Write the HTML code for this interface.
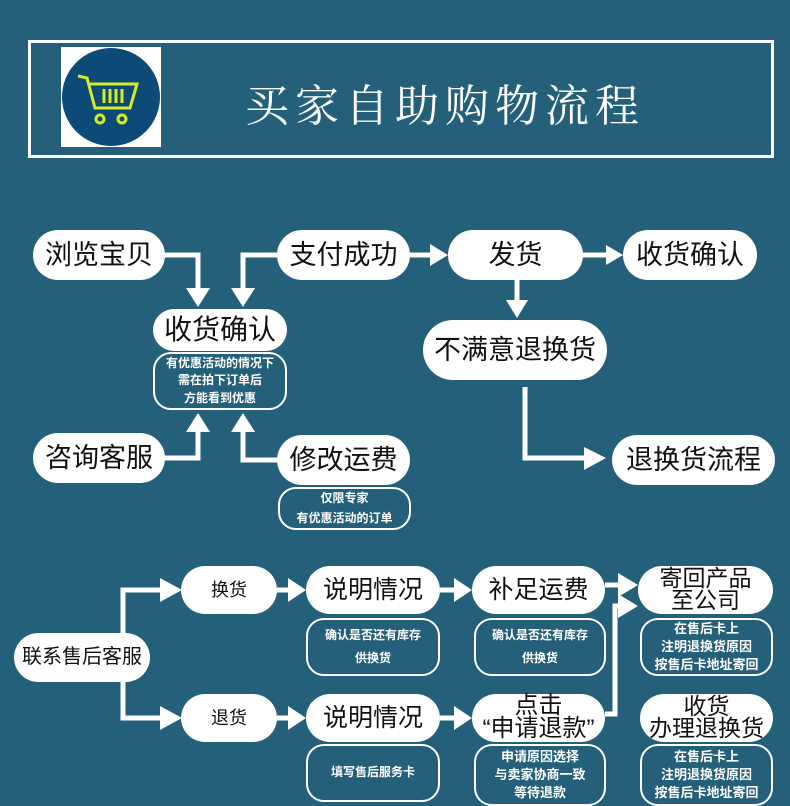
<!DOCTYPE html>
<html><head><meta charset="utf-8"><style>
body{margin:0;width:790px;height:806px;background:#25607a;overflow:hidden;position:relative;font-family:"Liberation Sans","Noto Sans CJK SC",sans-serif}
.p{position:absolute;background:#fff;border-radius:26px;color:#111;display:flex;align-items:center;justify-content:center;text-align:center;white-space:nowrap;line-height:1.05}
.n{position:absolute;border:2px solid #fff;border-radius:18px;color:#fff;display:flex;align-items:center;justify-content:center;text-align:center;font-size:12px;font-weight:bold;line-height:1.45;box-sizing:border-box;white-space:nowrap}
svg{position:absolute;left:0;top:0}
</style></head><body>
<div style="position:absolute;left:28px;top:40px;width:740px;height:112px;border:3px solid #fff"></div>
<div style="position:absolute;left:61px;top:47px;width:100px;height:100px;background:#fff"></div>
<div style="position:absolute;left:62px;top:48px;width:98px;height:98px;border-radius:50%;background:#0e4a78"></div>
<svg width="790" height="806">
<g stroke="#d4ec26" stroke-width="3" fill="none">
<path d="M78 76 L87 78 L95 108 L130 108 L137 84 L88 84"/>
<line x1="104" y1="89" x2="104" y2="103"/><line x1="110" y1="89" x2="110" y2="103"/><line x1="116" y1="89" x2="116" y2="103"/><line x1="122" y1="89" x2="122" y2="103"/>
<circle cx="100" cy="119" r="4"/><circle cx="122" cy="119" r="4"/>
</g>
<g stroke="#fff" stroke-width="5" fill="none">
<path d="M165 255 H198 V290"/><path d="M277 255 H243 V290"/>
<path d="M165 458 H198 V430"/><path d="M277 460 H243 V430"/>
<path d="M410 255 H432"/><path d="M583 255 H608"/>
<path d="M517 280 V302"/>
<path d="M525 387 V458 H585"/>
<path d="M150 657 H123 V590 H162"/><path d="M123 657 V718 H162"/>
<path d="M277 590 H290"/><path d="M277 718 H290"/>
<path d="M440 590 H456"/><path d="M440 718 H456"/>
<path d="M605 585 H620"/><path d="M605 714 H615 V606 H620"/>
</g>
<g fill="#fff">
<path d="M186 288 H210 L198 307Z"/><path d="M231 288 H255 L243 307Z"/>
<path d="M186 432 H210 L198 413Z"/><path d="M231 432 H255 L243 413Z"/>
<path d="M430 244 V266 L448 255Z"/><path d="M606 245 V265 L623 255Z"/>
<path d="M506 300 H528 L517 318Z"/>
<path d="M584 447 V470 L606 458Z"/>
<path d="M160 578 V602 L182 590Z"/><path d="M160 706 V730 L182 718Z"/>
<path d="M288 578 V602 L306 590Z"/><path d="M288 706 V730 L306 718Z"/>
<path d="M454 578 V602 L472 590Z"/><path d="M454 706 V730 L472 718Z"/>
<path d="M618 573 V597 L638 585Z"/><path d="M618 594 V618 L638 606Z"/>
</g>
</svg>
<div style="position:absolute;left:245px;top:70px;color:#fff;font-family:'Liberation Serif','Noto Serif CJK SC',serif;font-size:44px;letter-spacing:6px;white-space:nowrap">买家自助购物流程</div>

<div class="p" style="left:33px;top:230px;width:132px;height:50px;font-size:27px">浏览宝贝</div>
<div class="p" style="left:277px;top:230px;width:133px;height:50px;font-size:27px">支付成功</div>
<div class="p" style="left:153px;top:309px;width:134px;height:42px;font-size:28px;border-radius:21px">收货确认</div>
<div class="n" style="left:153px;top:352px;width:134px;height:58px">有优惠活动的情况下<br>需在拍下订单后<br>方能看到优惠</div>
<div class="p" style="left:33px;top:433px;width:132px;height:50px;font-size:27px">咨询客服</div>
<div class="p" style="left:277px;top:435px;width:133px;height:50px;font-size:27px">修改运费</div>
<div class="n" style="left:278px;top:487px;width:133px;height:43px;line-height:1.6">仅限专家<br>有优惠活动的订单</div>
<div class="p" style="left:448px;top:230px;width:135px;height:50px;font-size:27px">发货</div>
<div class="p" style="left:623px;top:230px;width:134px;height:50px;font-size:27px">收货确认</div>
<div class="p" style="left:423px;top:320px;width:184px;height:60px;font-size:27px;border-radius:30px">不满意退换货</div>
<div class="p" style="left:612px;top:435px;width:163px;height:50px;font-size:27px">退换货流程</div>

<div class="p" style="left:14px;top:633px;width:136px;height:49px;font-size:20px">联系售后客服</div>
<div class="p" style="left:181px;top:566px;width:96px;height:48px;font-size:18px">换货</div>
<div class="p" style="left:181px;top:694px;width:96px;height:48px;font-size:18px">退货</div>
<div class="p" style="left:306px;top:566px;width:134px;height:48px;font-size:25px">说明情况</div>
<div class="n" style="left:306px;top:618px;width:134px;height:58px;line-height:1.9">确认是否还有库存<br>供换货</div>
<div class="p" style="left:306px;top:694px;width:134px;height:48px;font-size:25px">说明情况</div>
<div class="n" style="left:306px;top:744px;width:134px;height:58px">填写售后服务卡</div>
<div class="p" style="left:472px;top:566px;width:133px;height:48px;font-size:25px">补足运费</div>
<div class="n" style="left:474px;top:618px;width:132px;height:58px;line-height:1.9">确认是否还有库存<br>供换货</div>
<div class="p" style="left:472px;top:694px;width:133px;height:48px;font-size:24px;line-height:0.95">点击<br>“申请退款”</div>
<div class="n" style="left:474px;top:744px;width:132px;height:62px;font-size:13px;line-height:1.4">申请原因选择<br>与卖家协商一致<br>等待退款</div>
<div class="p" style="left:638px;top:566px;width:135px;height:48px;font-size:23px;line-height:0.95">寄回产品<br>至公司</div>
<div class="n" style="left:640px;top:618px;width:133px;height:58px;font-size:13px;line-height:1.4">在售后卡上<br>注明退换货原因<br>按售后卡地址寄回</div>
<div class="p" style="left:640px;top:694px;width:133px;height:48px;font-size:23px;line-height:0.95">收货<br>办理退换货</div>
<div class="n" style="left:640px;top:744px;width:133px;height:62px;font-size:13px;line-height:1.4">在售后卡上<br>注明退换货原因<br>按售后卡地址寄回</div>
</body></html>
